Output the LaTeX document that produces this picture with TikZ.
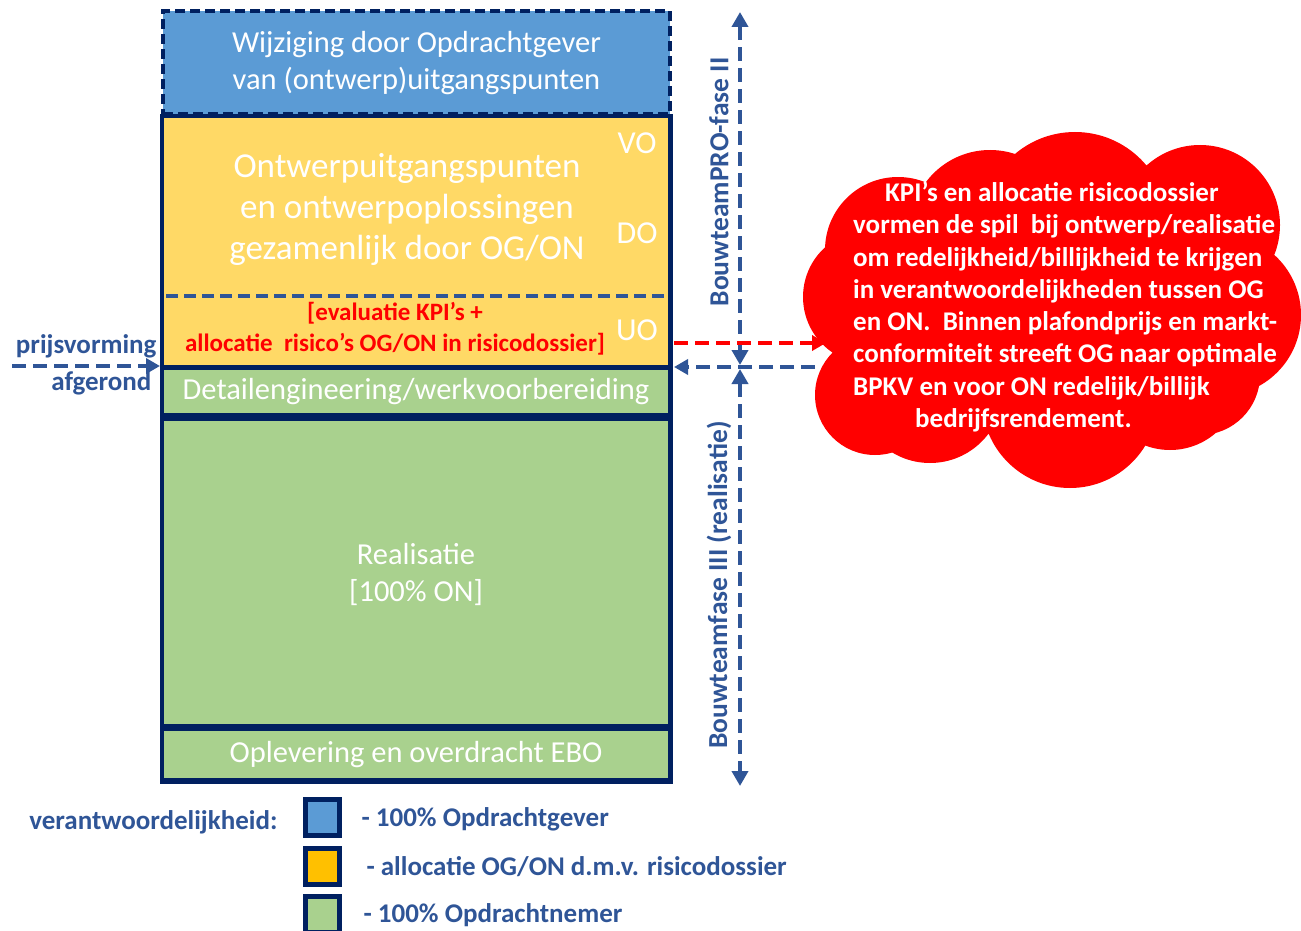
\documentclass[tikz,border=0pt]{standalone}
\usepackage{fontspec}
\setmainfont{Carlito}
\usetikzlibrary{arrows.meta,positioning}
\definecolor{navy}{HTML}{002060}
\definecolor{ogblue}{HTML}{5B9BD5}
\definecolor{ogyellow}{HTML}{FFD966}
\definecolor{leggold}{HTML}{FFC000}
\definecolor{ongreen}{HTML}{A9D18E}
\definecolor{linkblue}{HTML}{2F5597}
\tikzset{
  section/.style={rectangle, inner sep=0pt, minimum width=504pt, text=white, align=center, font=\fontsize{30.5}{37}\selectfont},
  phasetag/.style={rotate=90, text=linkblue, font=\bfseries\fontsize{27.5}{32}\selectfont},
  phasearrow/.style={linkblue, line width=4.5pt, dash pattern=on 14pt off 7pt, {Triangle[length=15pt,width=16pt]}-{Triangle[length=15pt,width=16pt]}},
  linkarrow/.style={line width=4.5pt, dash pattern=on 14pt off 7pt, -{Triangle[length=14pt,width=15pt]}},
  legtext/.style={text=linkblue, font=\bfseries\fontsize{27}{30}\selectfont},
  legbox/.style={draw=navy, line width=5pt, minimum width=34pt, minimum height=36pt, inner sep=0pt},
  fasecode/.style={text=white, font=\fontsize{32}{36}\selectfont},
}

\begin{document}
\begin{tikzpicture}[x=1pt,y=-1pt]
  \useasboundingbox (0,0) rectangle (1301,931);
  % bovenste blok: wijziging door OG
  \node[section, fill=ogblue, draw=navy, line width=4pt, dash pattern=on 10pt off 5pt, minimum width=507pt, minimum height=103pt] (wijz) at (416.5,63)
    {Wijziging door Opdrachtgever\\van (ontwerp)uitgangspunten};
  % kader
  \fill[navy] (160,114) rectangle (673,784);
  \node[section, fill=ogyellow, minimum height=247pt] (ontwerp) at (416,241.5) {};
  \node[section, fill=ongreen, minimum height=43pt] (detail) at (416,391.5) {Detailengineering/werkvoorbereiding};
  \node[section, fill=ongreen, minimum height=303pt] (real) at (416,572.5) {};
  \node[section, fill=ongreen, minimum height=47pt] (oplev) at (416,754.5) {Oplevering en overdracht EBO};
  \draw[linkblue, line width=3.5pt, dash pattern=on 12pt off 6pt] (166,296) -- (666,296);
  % teksten in de blokken
  \node[text=white, align=center, font=\fontsize{35}{41}\selectfont] (ontwtxt) at (407,209)
    {Ontwerpuitgangspunten\\en ontwerpoplossingen\\gezamenlijk door OG/ON};
  \node[fasecode] (vo) at (637,143) {VO};
  \node[fasecode] (do) at (637,233) {DO};
  \node[fasecode] (uo) at (637,330) {UO};
  \node[text=red, align=center, font=\bfseries\fontsize{25}{31}\selectfont] (evalu) at (395,329)
    {[evaluatie KPI’s +\\allocatie\ \ risico’s OG/ON in risicodossier]};
  \node[text=white, align=center, font=\fontsize{30.5}{37}\selectfont] (realtxt) at (416,574) {Realisatie\\{}[100\% ON]};
  % prijsvorming
  \node[legtext, anchor=east] (prijs) at (160,346) {prijsvorming};
  \node[legtext, anchor=east] (afger) at (155,383) {afgerond};
  \coordinate (prijsstart) at (12,366);
  \coordinate (kaderL) at (160,366);
  \draw[linkarrow, linkblue] (prijsstart) -- (kaderL);
  % fasen bouwteam
  \coordinate (f2top) at (740,12);
  \coordinate (f2bot) at (740,365);
  \coordinate (f3top) at (740,369);
  \coordinate (f3bot) at (740,786);
  \draw[phasearrow] (f2top) -- (f2bot);
  \draw[phasearrow] (f3top) -- (f3bot);
  \node[phasetag] (fase2) at (719,182) {BouwteamPRO-fase II};
  \node[phasetag] (fase3) at (719,585) {Bouwteamfase III (realisatie)};
  % wolk
  \fill[red] (1050,305) ellipse[x radius=200pt, y radius=130pt]
    (898,250) circle[radius=73pt]
    (990,230) circle[radius=80pt]
    (1075,225) circle[radius=93pt]
    (1200,225) circle[radius=80pt]
    (1220,315) circle[radius=81pt]
    (1200,375) circle[radius=60pt]
    (1170,380) circle[radius=70pt]
    (1070,400) circle[radius=88pt]
    (930,390) circle[radius=73pt]
    (875,395) circle[radius=60pt]
    (870,297) circle[radius=67pt];
  \node[anchor=west, inner sep=0pt, text=white, align=left, font=\bfseries\fontsize{27}{32.3}\selectfont] (kpitxt) at (853,307)
    {\hspace*{32pt}KPI’s en allocatie risicodossier\\
     vormen de spil\ \ bij ontwerp/realisatie\\
     om redelijkheid/billijkheid te krijgen\\
     in verantwoordelijkheden tussen OG\\
     en ON.\ \ Binnen plafondprijs en markt-\\
     conformiteit streeft OG naar optimale\\
     BPKV en voor ON redelijk/billijk\\
     \hspace*{62pt}bedrijfsrendement.};
  \coordinate (kaderR1) at (674,343);
  \coordinate (kaderR2) at (674,367);
  \coordinate (wolkin) at (826,343);
  \coordinate (wolkuit) at (815,367);
  \draw[linkarrow, red] (kaderR1) -- (wolkin);
  \draw[linkarrow, linkblue] (wolkuit) -- (kaderR2);
  % legenda
  \node[legtext, anchor=east] (verant) at (281,822) {verantwoordelijkheid:};
  \node[legbox, fill=ogblue] (legog) at (322.5,817.5) {};
  \node[legbox, fill=leggold] (legrisk) at (322.5,866) {};
  \node[legbox, fill=ongreen] (legon) at (322.5,914) {};
  \node[legtext, anchor=west] (legogtxt) at (358,819) {- 100\% Opdrachtgever};
  \node[legtext, anchor=west] (legrisktxt) at (363,867) {- allocatie OG/ON d.m.v. risicodossier};
  \node[legtext, anchor=west] (legontxt) at (360,915) {- 100\% Opdrachtnemer};
\end{tikzpicture}
\end{document}
